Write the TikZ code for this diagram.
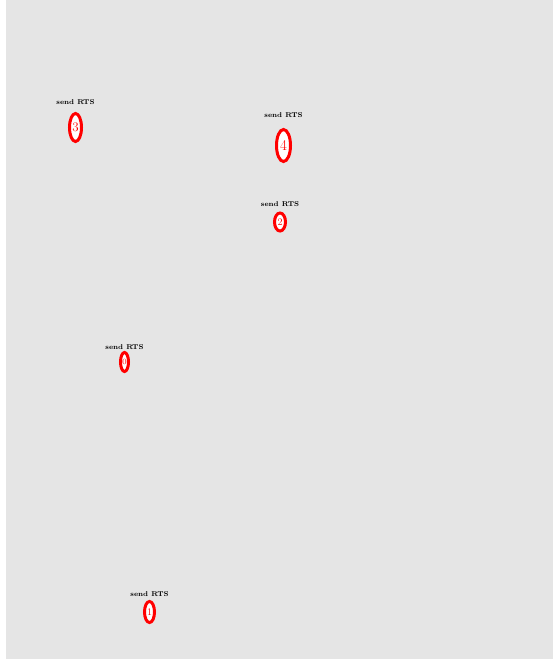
\documentclass[tikz,border=0pt]{standalone}
\usepackage{tikz}
\usetikzlibrary{shapes.geometric, positioning}
\definecolor{bggrau}{HTML}{E5E5E5}
\definecolor{knotrot}{HTML}{FF0000}

\begin{document}
\begin{tikzpicture}[
    x=1pt, y=-1pt,
    knot/.style={ellipse, draw=knotrot, line width=3pt, fill=white,
                 inner sep=0pt, text=knotrot},
    rts/.style={font=\fontsize{7}{8}\selectfont\bfseries, inner sep=0.5pt}
  ]
  \useasboundingbox (0,0) rectangle (553,661);
  \fill[bggrau] (6,0) rectangle (553,659);
  \node[knot, minimum width=12pt, minimum height=28pt, font=\fontsize{13}{13}\selectfont] (n3) at (75.5,127.5) {3};
  \node[knot, minimum width=14pt, minimum height=32pt, font=\fontsize{15}{15}\selectfont] (n4) at (283.5,145.5) {4};
  \node[knot, minimum width=11pt, minimum height=18pt, font=\fontsize{10}{10}\selectfont] (n2) at (280,222) {2};
  \node[knot, minimum width=8pt, minimum height=19pt, font=\fontsize{8}{8}\selectfont] (n0) at (124.5,362) {0};
  \node[knot, minimum width=10pt, minimum height=21pt, font=\fontsize{10}{10}\selectfont] (n1) at (149.5,612) {1};
  \node[rts, above=7pt of n3] (r3) {send RTS};
  \node[rts, above=9.5pt of n4] (r4) {send RTS};
  \node[rts, above=4pt of n2] (r2) {send RTS};
  \node[rts, above=0.5pt of n0] (r0) {send RTS};
  \node[rts, above=3pt of n1] (r1) {send RTS};
\end{tikzpicture}
\end{document}
